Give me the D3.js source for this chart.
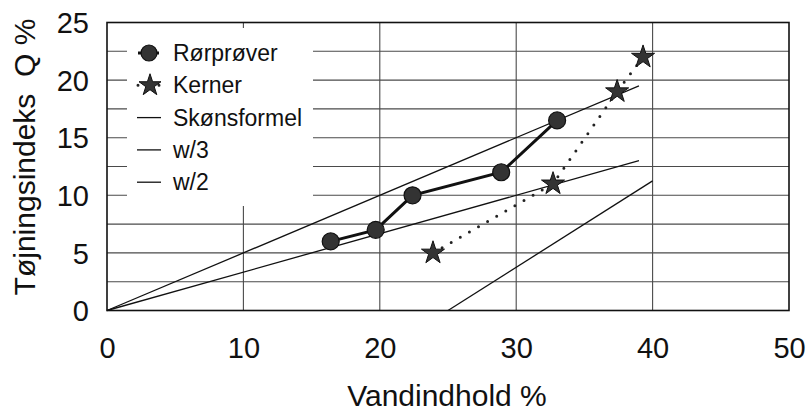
<!DOCTYPE html>
<html>
<head>
<meta charset="utf-8">
<script src="https://cdn.jsdelivr.net/npm/d3@7"></script>
<style>
  html, body { margin: 0; padding: 0; background: #fff; }
  svg { display: block; font-family: "Liberation Sans", Arial, Helvetica, sans-serif; }
</style>
</head>
<body>
<svg id="chart" width="809" height="412"></svg>
<script>
// Vandindhold (%) and tøjningsindeks (%) for the two sample types
const rorX = [16.4, 19.7, 22.4, 28.9, 33.0];
const rorY = [6, 7, 10, 12, 16.5];
const kernerX = [23.9, 32.7, 37.4, 39.3];
const kernerY = [5, 11, 19, 22];

// Reference lines (end points)
const skonX = [25, 40];
const skonY = [0, 11.25];
const w3X = [0, 39];
const w3Y = [0, 13];
const w2X = [0, 39];
const w2Y = [0, 19.5];

const xTicks = [0, 10, 20, 30, 40, 50];
const yTicks = [0, 5, 10, 15, 20, 25];
const yGrid = [2.5, 5, 7.5, 10, 12.5, 15, 17.5, 20, 22.5];
const xGrid = [10, 20, 30, 40];
const legendLabels = ["Rørprøver", "Kerner", "Skønsformel", "w/3", "w/2"];

const svg = d3.select("#chart");
const x = d3.scaleLinear().domain([0, 50]).range([107, 789]);
const y = d3.scaleLinear().domain([0, 25]).range([310.5, 22.5]);

// grid
svg.append("g").selectAll("line.h").data(yGrid).join("line")
  .attr("x1", x(0)).attr("x2", x(50))
  .attr("y1", d => y(d)).attr("y2", d => y(d))
  .attr("stroke", "#4a4a4a").attr("stroke-width", 1.1);
svg.append("g").selectAll("line.v").data(xGrid).join("line")
  .attr("x1", d => x(d)).attr("x2", d => x(d))
  .attr("y1", y(0)).attr("y2", y(25))
  .attr("stroke", "#4a4a4a").attr("stroke-width", 1.1);

// legend background masks the grid behind it
svg.append("rect").attr("x", 127).attr("y", 28).attr("width", 186).attr("height", 178)
  .attr("fill", "#fff");

// frame
svg.append("rect").attr("x", x(0)).attr("y", y(25))
  .attr("width", x(50) - x(0)).attr("height", y(0) - y(25))
  .attr("fill", "none").attr("stroke", "#111").attr("stroke-width", 1.6);

// axes tick labels
const xAxis = d3.axisBottom(x).tickValues(xTicks).tickSize(0).tickPadding(0);
const gx = svg.append("g").attr("transform", `translate(0,${y(0)})`).call(xAxis);
gx.select(".domain").remove();
gx.selectAll("text").attr("font-size", 29).attr("fill", "#111")
  .attr("dy", null).attr("y", 47);

const yAxis = d3.axisLeft(y).tickValues(yTicks).tickSize(0).tickPadding(0);
const gy = svg.append("g").attr("transform", `translate(89,0)`).call(yAxis);
gy.select(".domain").remove();
gy.selectAll("text").attr("font-size", 29).attr("fill", "#111")
  .attr("dy", "0.35em").attr("x", 0);
svg.selectAll(".tick text").attr("font-family", "'Liberation Sans', Arial, sans-serif");

// axis titles
svg.append("text").attr("x", 447).attr("y", 406).attr("text-anchor", "middle")
  .attr("font-size", 30).attr("fill", "#111").text("Vandindhold %");
svg.append("text").attr("transform", "translate(35,157) rotate(-90)")
  .attr("text-anchor", "middle").attr("font-size", 30).attr("fill", "#111")
  .style("white-space", "pre").text("Tøjningsindeks  Q %");

const line = d3.line().x(d => x(d[0])).y(d => y(d[1]));
const pairs = (xs, ys) => xs.map((v, i) => [v, ys[i]]);

// reference lines
[[skonX, skonY], [w3X, w3Y], [w2X, w2Y]].forEach(([xs, ys]) => {
  svg.append("path").datum(pairs(xs, ys)).attr("d", line)
    .attr("fill", "none").attr("stroke", "#111").attr("stroke-width", 1.3);
});

// Kerner dotted line + stars
svg.append("path").datum(pairs(kernerX, kernerY)).attr("d", line)
  .attr("fill", "none").attr("stroke", "#222").attr("stroke-width", 3)
  .attr("stroke-linecap", "round").attr("stroke-dasharray", "0 10.5");
const star = d3.symbol().type(d3.symbolStar).size(165);
svg.append("g").selectAll("path").data(pairs(kernerX, kernerY)).join("path")
  .attr("d", star).attr("transform", d => `translate(${x(d[0])},${y(d[1])})`)
  .attr("fill", "#333").attr("stroke", "#111").attr("stroke-width", 1);

// Rørprøver line + circles
svg.append("path").datum(pairs(rorX, rorY)).attr("d", line)
  .attr("fill", "none").attr("stroke", "#111").attr("stroke-width", 3);
svg.append("g").selectAll("circle").data(pairs(rorX, rorY)).join("circle")
  .attr("cx", d => x(d[0])).attr("cy", d => y(d[1])).attr("r", 8.5)
  .attr("fill", "#333").attr("stroke", "#111").attr("stroke-width", 1.2);

// legend
const lg = svg.append("g");
const rowY = i => 53 + i * 32.3;
legendLabels.forEach((t, i) => {
  lg.append("text").attr("x", 173).attr("y", rowY(i)).attr("dy", "0.35em")
    .attr("font-size", 23).attr("fill", "#111").text(t);
});
lg.append("line").attr("x1", 138).attr("x2", 159).attr("y1", rowY(0)).attr("y2", rowY(0))
  .attr("stroke", "#111").attr("stroke-width", 3);
lg.append("circle").attr("cx", 149).attr("cy", rowY(0)).attr("r", 8)
  .attr("fill", "#333").attr("stroke", "#111").attr("stroke-width", 1.2);
lg.append("line").attr("x1", 138).attr("x2", 161).attr("y1", rowY(1)).attr("y2", rowY(1))
  .attr("stroke", "#222").attr("stroke-width", 3).attr("stroke-linecap", "round")
  .attr("stroke-dasharray", "0 10.5");
lg.append("path").attr("d", d3.symbol().type(d3.symbolStar).size(150))
  .attr("transform", `translate(150,${rowY(1)})`)
  .attr("fill", "#333").attr("stroke", "#111").attr("stroke-width", 1);
[2, 3, 4].forEach(i => {
  lg.append("line").attr("x1", 137).attr("x2", 161).attr("y1", rowY(i)).attr("y2", rowY(i))
    .attr("stroke", "#111").attr("stroke-width", 1.3);
});
</script>
</body>
</html>
